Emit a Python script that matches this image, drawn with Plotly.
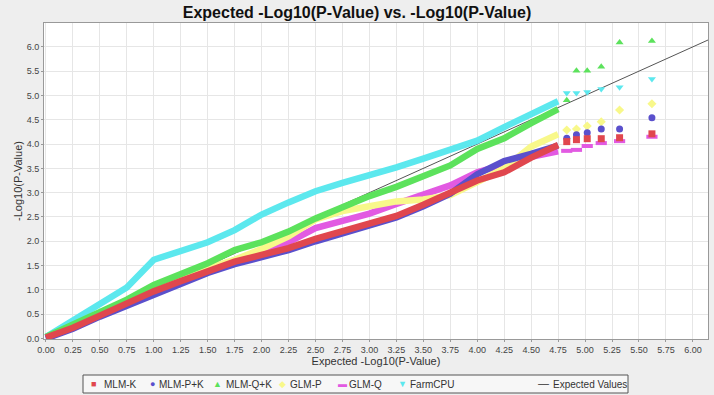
import plotly.graph_objects as go

# Expected -log10(p) positions for the dense body of each series
x_bulk = [0.0, 0.25, 0.5, 0.75, 1.0, 1.25, 1.5, 1.75, 2.0, 2.25, 2.5, 2.75,
          3.0, 3.25, 3.5, 3.75, 4.0, 4.25, 4.5, 4.75]
# Expected -log10(p) positions of the separated tail points
x_tail = [4.83, 4.92, 5.02, 5.15, 5.32, 5.62]

series_names = ["MLM-K", "MLM-P+K", "MLM-Q+K", "GLM-P", "GLM-Q", "FarmCPU"]

mlm_k_bulk = [0.02, 0.22, 0.47, 0.72, 0.97, 1.18, 1.38, 1.58, 1.72, 1.86, 2.05, 2.2,
              2.35, 2.52, 2.75, 3.0, 3.25, 3.42, 3.72, 3.98]
mlm_k_tail = [4.05, 4.09, 4.11, 4.11, 4.13, 4.21]

mlm_pk_bulk = [0.0, 0.2, 0.45, 0.68, 0.92, 1.13, 1.35, 1.53, 1.67, 1.82, 2.0, 2.16,
               2.31, 2.49, 2.72, 2.98, 3.38, 3.65, 3.8, 3.97]
mlm_pk_tail = [4.12, 4.19, 4.23, 4.31, 4.31, 4.54]

mlm_qk_bulk = [0.03, 0.28, 0.52, 0.8, 1.1, 1.33, 1.55, 1.82, 1.98, 2.2, 2.47, 2.7,
               2.93, 3.12, 3.35, 3.56, 3.9, 4.12, 4.43, 4.72]
mlm_qk_tail = [4.9, 5.51, 5.51, 5.59, 6.09, 6.12]

glm_p_bulk = [0.02, 0.24, 0.5, 0.75, 1.0, 1.25, 1.45, 1.62, 1.84, 2.1, 2.45, 2.62,
              2.72, 2.82, 2.86, 2.95, 3.22, 3.5, 3.95, 4.2]
glm_p_tail = [4.29, 4.31, 4.37, 4.46, 4.70, 4.83]

glm_q_bulk = [0.01, 0.22, 0.47, 0.72, 0.98, 1.22, 1.42, 1.62, 1.8, 1.98, 2.27, 2.42,
              2.57, 2.77, 2.95, 3.15, 3.42, 3.57, 3.74, 3.85]
glm_q_tail = [3.86, 3.88, 3.96, 4.02, 4.06, 4.15]

farmcpu_bulk = [0.03, 0.38, 0.73, 1.05, 1.62, 1.79, 1.98, 2.23, 2.55, 2.8, 3.03, 3.2,
                3.35, 3.52, 3.7, 3.88, 4.07, 4.35, 4.6, 4.88]
farmcpu_tail = [5.05, 5.05, 5.07, 5.13, 5.17, 5.34]

expected_name = "Expected Values"
expected_x = [0.0, 6.2]
expected_y = [0.0, 6.2]

x_ticks = [i * 0.25 for i in range(25)]
y_ticks = [i * 0.5 for i in range(13)]

colors = ["#E0474E", "#5A50CC", "#5CE25C", "#F8F88A", "#E25AE2", "#5CE8EE"]
symbols = ["square", "circle", "triangle-up", "diamond", "line-ew", "triangle-down"]
legend_glyphs = ["\u25A0", "\u25CF", "\u25B2", "\u25C6", "\u25AC", "\u25BC"]
bulks = [mlm_k_bulk, mlm_pk_bulk, mlm_qk_bulk, glm_p_bulk, glm_q_bulk, farmcpu_bulk]
tails = [mlm_k_tail, mlm_pk_tail, mlm_qk_tail, glm_p_tail, glm_q_tail, farmcpu_tail]

W, H = 714, 395
ML, MR, MT, MB = 44, 6, 23, 56
PW, PH = W - ML - MR, H - MT - MB


def px_x(p):
    return (p - ML) / PW


def px_y(p):
    return (H - MB - p) / PH


fig = go.Figure()

fig.add_trace(go.Scatter(x=expected_x, y=expected_y, mode="lines",
                         line=dict(color="#555555", width=1),
                         name=expected_name))

# draw in reverse so MLM-K ends on top
draw_order = [5, 4, 3, 2, 1, 0]
for i in draw_order:
    fig.add_trace(go.Scatter(x=x_bulk, y=bulks[i], mode="lines",
                             line=dict(color=colors[i], width=6.5),
                             name=series_names[i], hoverinfo="skip"))
for i in draw_order:
    mk = dict(color=colors[i], size=7, symbol=symbols[i])
    if symbols[i] == "line-ew":
        mk = dict(color=colors[i], size=8, symbol="line-ew",
                  line=dict(color=colors[i], width=4))
    fig.add_trace(go.Scatter(x=x_tail, y=tails[i], mode="markers",
                             marker=mk, name=series_names[i]))

# legend box (drawn as annotations so spacing follows the original)
legend_sym_px = [93, 152, 217, 282, 342, 403]
legend_txt_px = [102, 157, 224, 288, 347, 408]
legend_cy = 384
annotations = []
for i in range(6):
    annotations.append(dict(x=px_x(legend_sym_px[i]), y=px_y(legend_cy), xref="paper", yref="paper",
                            text=legend_glyphs[i], showarrow=False, xanchor="center", yanchor="middle",
                            font=dict(size=9, color=colors[i])))
    annotations.append(dict(x=px_x(legend_txt_px[i]), y=px_y(legend_cy), xref="paper", yref="paper",
                            text=series_names[i], showarrow=False, xanchor="left", yanchor="middle",
                            font=dict(size=10, color="#333333")))
annotations.append(dict(x=px_x(543), y=px_y(legend_cy - 1), xref="paper", yref="paper",
                        text="\u2014", showarrow=False, xanchor="center", yanchor="middle",
                        font=dict(size=11, color="#333333")))
annotations.append(dict(x=px_x(551), y=px_y(legend_cy), xref="paper", yref="paper",
                        text=expected_name, showarrow=False, xanchor="left", yanchor="middle",
                        font=dict(size=10, color="#333333")))

shapes = [dict(type="rect", xref="paper", yref="paper",
               x0=px_x(83), x1=px_x(628), y0=px_y(393), y1=px_y(375),
               line=dict(color="#555555", width=1), fillcolor="#F7F7F7", layer="below")]

fig.update_layout(
    width=W, height=H,
    paper_bgcolor="#EEEEEE", plot_bgcolor="#FFFFFF",
    margin=dict(l=ML, r=MR, t=MT, b=MB, autoexpand=False),
    title=dict(text="<b>Expected -Log10(P-Value) vs. -Log10(P-Value)</b>",
               x=0.5, xanchor="center", xref="container",
               y=1 - 12 / H, yanchor="middle",
               font=dict(family="Liberation Sans, Arial", size=16, color="#111111")),
    font=dict(family="Liberation Sans, Arial", size=10, color="#444444"),
    showlegend=False,
    annotations=annotations,
    shapes=shapes,
)
fig.update_xaxes(range=[-0.018, 6.14], tickvals=x_ticks,
                 ticktext=[f"{v:.2f}" for v in x_ticks],
                 showgrid=True, gridcolor="#E6E6E6", gridwidth=1, automargin=False,
                 zeroline=False, showline=True, linecolor="#999999", mirror=True,
                 ticks="outside", ticklen=2, tickcolor="#999999",
                 tickfont=dict(size=9, color="#444444"),
                 title=dict(text="Expected -Log10(P-Value)", standoff=3,
                            font=dict(size=11, color="#333333")))
fig.update_yaxes(range=[-0.01, 6.49], tickvals=y_ticks,
                 ticktext=[f"{v:.1f}" for v in y_ticks],
                 showgrid=True, gridcolor="#E6E6E6", gridwidth=1, automargin=False,
                 zeroline=False, showline=True, linecolor="#999999", mirror=True,
                 ticks="outside", ticklen=2, tickcolor="#999999",
                 tickfont=dict(size=9, color="#444444"),
                 title=dict(text="-Log10(P-Value)", standoff=1,
                            font=dict(size=11, color="#333333")))

fig.write_html("out.html", config={"displayModeBar": False},
               post_script="document.body.style.margin='0px';document.body.style.overflow='hidden';")
